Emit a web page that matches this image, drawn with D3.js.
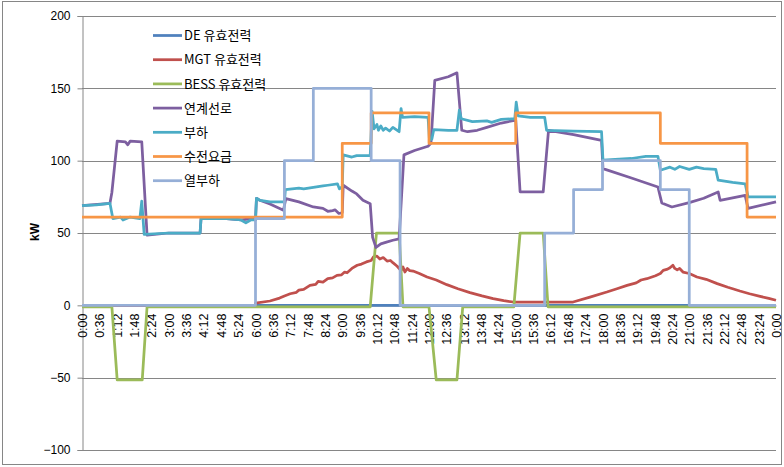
<!DOCTYPE html>
<html><head><meta charset="utf-8">
<script src="https://cdn.jsdelivr.net/npm/d3@7"></script>
<style>body{margin:0;background:#fff}svg{display:block}</style>
</head><body><svg id="c" width="784" height="467"></svg>
<script>
// ---- data (time "H:MM", value kW) ----
const tickLabels = ["0:00","0:36","1:12","1:48","2:24","3:00","3:36","4:12","4:48","5:24","6:00","6:36","7:12","7:48","8:24","9:00","9:36","10:12","10:48","11:24","12:00","12:36","13:12","13:48","14:24","15:00","15:36","16:12","16:48","17:24","18:00","18:36","19:12","19:48","20:24","21:00","21:36","22:12","22:48","23:24","0:00"];
const yTicks = [-100,-50,0,50,100,150,200];
const seriesNames = ["DE 유효전력","MGT 유효전력","BESS 유효전력","연계선로","부하","수전요금","열부하"];
const seriesColors = ["#4F81BD","#C0504D","#9BBB59","#7D5FA0","#4BACC6","#F79646","#96AFD7"];

const deData = [["0:00",0],["24:00",0]];
const mgtData = [["0:00",0],["6:00",0],["6:00",1.5],["6:30",3],["6:50",5],["7:00",6.5],["7:12",8],["7:25",9],["7:30",10.5],["7:40",11],["7:53",13.8],["8:05",14.5],["8:10",16.5],["8:20",16],["8:30",18.5],["8:40",19],["8:49",20.7],["8:58",21],["9:05",23],["9:10",22.5],["9:20",25.5],["9:31",27.7],["9:40",28.5],["9:50",30],["10:00",31],["10:05",33.5],["10:12",34],["10:18",32],["10:25",33],["10:33",30.6],["10:40",31],["10:45",29.5],["10:54",27],["11:02",24],["11:06",26.5],["11:10",23],["11:15",25.5],["11:20",24],["11:27",23.7],["11:40",22],["11:56",19.6],["12:15",17.5],["12:37",14.3],["13:00",11.5],["13:25",8.8],["13:50",6.5],["14:13",4.6],["14:35",3.2],["14:55",2.3],["16:59",2.3],["17:34",5.7],["18:09",9.2],["18:30",11.5],["18:51",13.8],["19:10",15.5],["19:20",17.5],["19:32",18.4],["19:50",20.5],["20:00",22],["20:06",24.2],["20:15",25],["20:20",26],["20:26",27.7],["20:30",25.5],["20:35",24.5],["20:40",25.5],["20:47",23],["21:00",22],["21:16",19.6],["21:35",18],["21:58",15],["22:20",12.5],["22:45",9.9],["23:05",8],["23:27",6.2],["23:45",4.8],["24:00",3.5]];
const bessData = [["0:00",-1],["1:02",-1],["1:13",-51.5],["2:05",-51.5],["2:15",-1],["9:58",-1],["10:11",50],["10:58",50],["11:06",-1],["12:00",-1],["12:15",-51.5],["12:58",-51.5],["13:10",-1],["14:56",-1],["15:09",50],["15:57",50],["16:07",-1],["24:00",-1]];
const gridData = [["0:00",69],["0:58",70.5],["1:02",78],["1:13",113.5],["1:30",113],["1:35",111],["1:40",113.5],["2:04",113],["2:15",48.5],["3:00",50],["4:05",50],["4:07",60],["5:00",60],["5:30",59],["5:55",60],["6:00",59],["6:02",74],["6:09",72.6],["6:30",70],["6:58",65.7],["7:03",73.8],["7:30",71.5],["8:00",68],["8:20",67],["8:30",65],["8:40",65.5],["8:45",66],["8:53",63.5],["9:00",64],["9:02",83],["9:20",79],["9:30",77],["9:43",72.6],["9:58",70.3],["10:03",47],["10:10",40],["10:20",42.5],["10:30",43.5],["10:45",45],["10:58",46],["11:08",104],["11:30",107],["11:58",110],["12:04",112],["12:12",155.5],["12:40",158],["12:58",160.7],["13:08",121],["13:20",120],["13:40",121],["14:00",123],["14:30",126],["15:00",128],["15:09",78.5],["15:57",78.5],["16:08",121],["17:00",118],["17:58",114],["18:01",94.5],["19:00",88],["19:55",81.8],["20:03",70.8],["20:24",68],["21:00",71],["21:30",74],["22:00",78.4],["22:04",72.6],["22:56",76],["23:02",67],["24:00",71.5]];
const loadData = [["0:00",69],["0:30",69.5],["0:58",70.5],["1:04",60],["1:20",61],["1:25",59],["1:40",61],["2:00",60],["2:04",72],["2:09",49],["3:00",50],["4:05",50],["4:07",60],["5:00",60],["5:30",59],["5:40",57],["5:50",59],["6:00",59],["6:02",74],["6:10",72.5],["6:30",71.5],["7:00",71.5],["7:02",80],["7:30",81],["7:40",80.5],["8:00",81.5],["8:20",82.5],["8:30",83],["8:50",84],["8:54",80.5],["9:00",82],["9:02",104],["9:20",102.5],["9:30",103.5],["9:58",103.5],["10:02",134],["10:06",122],["10:12",125],["10:15",121],["10:20",124],["10:25",121],["10:30",122.5],["10:38",120.5],["10:45",123],["10:58",120],["11:02",136],["11:05",130],["11:30",130.5],["11:58",130],["12:01",114],["12:06",115],["12:10",121.5],["12:40",121],["12:58",121],["13:03",135],["13:07",129],["13:30",127],["14:00",127.5],["14:10",126.5],["14:30",128.5],["14:58",129],["15:01",140.5],["15:05",131],["15:30",130],["16:00",130],["16:04",121],["17:00",120.5],["17:58",120],["18:01",100.3],["19:00",101.5],["19:30",103],["19:55",103],["20:00",93.4],["20:20",95.5],["20:30",94],["20:40",96],["21:00",94],["21:15",95.5],["21:30",94.5],["21:55",94],["22:00",86.5],["22:30",85],["22:56",84],["23:02",75],["24:00",75]];
const tariffData = [["0:00",61],["9:00",61],["9:00",112],["10:00",112],["10:00",133],["12:00",133],["12:00",112],["15:00",112],["15:00",133],["20:00",133],["20:00",112],["23:00",112],["23:00",61],["24:00",61]];
const heatData = [["0:00",0],["6:00",0],["6:00",60],["7:00",60],["7:00",100],["8:00",100],["8:00",150],["10:00",150],["10:00",100],["11:00",100],["11:00",0],["16:00",0],["16:00",50],["17:00",50],["17:00",80],["18:00",80],["18:00",100],["20:00",100],["20:00",80],["21:00",80],["21:00",0],["24:00",0]];

const allSeries = [deData,mgtData,bessData,gridData,loadData,tariffData,heatData];

// ---- drawing ----
const toMin = s => { const [h,m] = s.split(":").map(Number); return h*60+m; };
const svg = d3.select("#c");
const x = d3.scaleLinear().domain([0,1440]).range([82,776]);
const y = d3.scaleLinear().domain([-100,200]).range([450,16]);
const gridCol = "#868686";
const font = "'Liberation Sans', Arial, sans-serif";

// outer frame
svg.append("rect").attr("x",2.5).attr("y",1.5).attr("width",779).attr("height",463)
  .attr("fill","#fff").attr("stroke",gridCol).attr("stroke-width",1);

// gridlines
svg.append("g").selectAll("line").data(yTicks.filter(d=>d!==0)).join("line")
  .attr("x1",x(0)).attr("x2",x(1440))
  .attr("y1",d=>Math.round(y(d))+0.5).attr("y2",d=>Math.round(y(d))+0.5)
  .attr("stroke",gridCol).attr("stroke-width",1);

// y axis
const yAxis = svg.append("g").attr("transform",`translate(${Math.round(x(0))+0.5},0)`)
  .call(d3.axisLeft(y).tickValues(yTicks).tickSize(5).tickPadding(7).tickFormat(d3.format("d")));
yAxis.select(".domain").attr("stroke",gridCol);
yAxis.selectAll(".tick line").attr("stroke",gridCol);
yAxis.selectAll("text").attr("font-family",font).attr("font-size",12).attr("fill","#000");

// x axis at y=0
const xAxis = svg.append("g").attr("transform",`translate(0,${Math.round(y(0))+0.5})`)
  .call(d3.axisBottom(x).tickValues(d3.range(tickLabels.length).map(i=>i*36))
    .tickFormat((d,i)=>tickLabels[i]).tickSize(0).tickSizeOuter(0));
xAxis.select(".domain").attr("stroke",gridCol);
xAxis.selectAll("text").attr("font-family",font).attr("font-size",12.5).attr("fill","#000")
  .attr("transform","rotate(-90)").attr("x",-8).attr("y",0).attr("dy","0.36em").attr("text-anchor","end");

// y title
svg.append("text").attr("transform","translate(35,232) rotate(-90)")
  .attr("text-anchor","middle").attr("dy","0.35em")
  .attr("font-family",font).attr("font-size",12).attr("font-weight","bold").text("kW");

// lines
const line = d3.line().x(d=>x(toMin(d[0]))).y(d=>y(d[1]));
svg.append("g").selectAll("path").data(allSeries).join("path")
  .attr("d",line).attr("fill","none")
  .attr("stroke",(d,i)=>seriesColors[i]).attr("stroke-width",2.75)
  .attr("stroke-linejoin","round").attr("stroke-linecap","butt");

// legend
const lg = svg.append("g").selectAll("g").data(seriesNames).join("g")
  .attr("transform",(d,i)=>`translate(153,${35.5+i*24.2})`);
lg.append("line").attr("x1",0).attr("x2",29).attr("y1",0).attr("y2",0)
  .attr("stroke",(d,i)=>seriesColors[i]).attr("stroke-width",2.75);
lg.append("text").attr("x",31).attr("y",0).attr("dy","0.36em")
  .attr("font-family","'Noto Sans CJK KR', sans-serif").attr("font-size",13).attr("fill","#000")
  .text(d=>d);
</script>
</body></html>
